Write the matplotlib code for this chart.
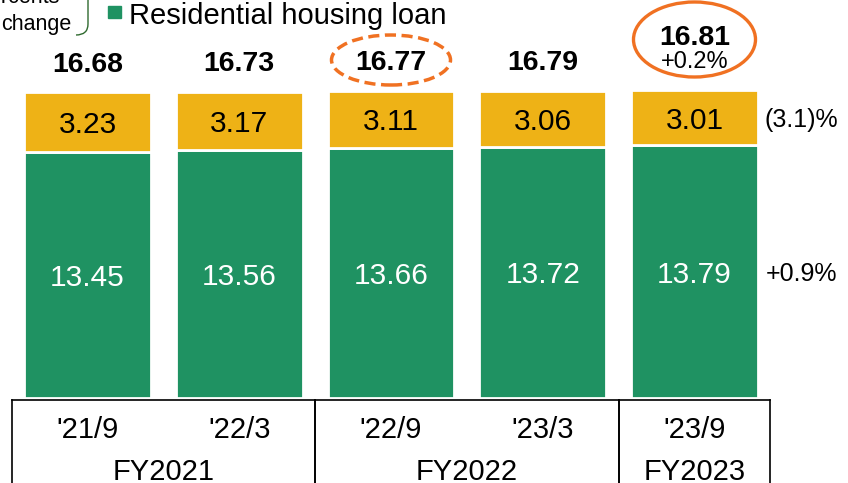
import matplotlib
matplotlib.use("Agg")
import matplotlib.pyplot as plt
from matplotlib.patches import Ellipse, Rectangle, PathPatch
from matplotlib.path import Path
from matplotlib.transforms import IdentityTransform

plt.rcParams['font.family'] = ['Liberation Sans', 'DejaVu Sans']

# Loan balances (trillion yen) at each half-year end
PERIODS = ["'21/9", "'22/3", "'22/9", "'23/3", "'23/9"]
HOUSING = [13.45, 13.56, 13.66, 13.72, 13.79]
OTHER = [3.23, 3.17, 3.11, 3.06, 3.01]
TOTALS = [16.68, 16.73, 16.77, 16.79, 16.81]
FISCAL_YEARS = ["FY2021", "FY2022", "FY2023"]
FY_SPANS = [(0, 1), (2, 3), (4, 4)]
CHANGE_TOTAL = "+0.2%"
CHANGE_OTHER = "(3.1)%"
CHANGE_HOUSING = "+0.9%"

GREEN = '#1F9262'
YELLOW = '#EEB216'
ORANGE = '#F07122'

W, H = 848, 483
PX_PER_BAR = 151.75   # spacing between bars
PX_PER_UNIT = 18.3    # pixels per trillion yen
X0_PX = 87.5          # centre of first bar
Y0_PX = 397.7         # baseline, from top
BAR_W = 0.835

fig = plt.figure(figsize=(W / 100, H / 100), dpi=100)
ax = fig.add_axes([0, 0, 1, 1])
ax.set_xlim(-X0_PX / PX_PER_BAR, (W - X0_PX) / PX_PER_BAR)
ax.set_ylim(-(H - Y0_PX) / PX_PER_UNIT, Y0_PX / PX_PER_UNIT)
ax.axis('off')


def row(py):
    """pixel row (from top) -> data y"""
    return (Y0_PX - py) / PX_PER_UNIT


x = list(range(len(PERIODS)))
ax.bar(x, HOUSING, width=BAR_W, color=GREEN, edgecolor='white', linewidth=2)
ax.bar(x, OTHER, bottom=HOUSING, width=BAR_W, color=YELLOW,
       edgecolor='white', linewidth=2)

for i in x:
    ax.text(i, HOUSING[i] / 2, f"{HOUSING[i]:.2f}", color='white',
            fontsize=21.5, ha='center', va='center_baseline')
    ax.text(i, HOUSING[i] + OTHER[i] / 2, f"{OTHER[i]:.2f}", color='black',
            fontsize=21.5, ha='center', va='center_baseline')

# totals above the bars
for i in x[:-1]:
    ax.annotate(f"{TOTALS[i]:.2f}", (i, TOTALS[i]), xytext=(0, 22),
                textcoords='offset points', ha='center',
                va='center_baseline', fontsize=20.5, fontweight='bold')
last = x[-1]
ax.annotate(f"{TOTALS[last]:.2f}", (last, TOTALS[last]), xytext=(0, 40),
            textcoords='offset points', ha='center', va='center_baseline',
            fontsize=20.5, fontweight='bold')
ax.annotate(CHANGE_TOTAL, (last, TOTALS[last]), xytext=(0, 22),
            textcoords='offset points', ha='center', va='center_baseline',
            fontsize=17)

# highlight rings
ax.add_patch(Ellipse((2, row(60)), 119 / PX_PER_BAR, 50 / PX_PER_UNIT,
                     fill=False, ec=ORANGE, lw=2.5, ls=(0, (3.2, 1.6))))
ax.add_patch(Ellipse((last, row(39.5)), 122 / PX_PER_BAR, 75 / PX_PER_UNIT,
                     fill=False, ec=ORANGE, lw=2.4))

# change rates on the right
ax.annotate(CHANGE_OTHER, (last + BAR_W / 2, HOUSING[last] + OTHER[last] / 2),
            xytext=(5, 0), textcoords='offset points', ha='left',
            va='center_baseline', fontsize=18)
ax.annotate(CHANGE_HOUSING, (last + BAR_W / 2, HOUSING[last] / 2),
            xytext=(6, 0), textcoords='offset points', ha='left',
            va='center_baseline', fontsize=18)

# period / fiscal year table under the bars
top = row(400)
bottom = row(H + 5)
ax.plot([-0.5, last + 0.5], [top, top], color='black', lw=1.2, clip_on=False)
for a, b in FY_SPANS:
    for xv in (a - 0.5, b + 0.5):
        ax.plot([xv, xv], [top, bottom], color='black', lw=1.2, clip_on=False)
for i in x:
    ax.text(i, row(427), PERIODS[i], fontsize=21, ha='center',
            va='center_baseline')
for (a, b), fy in zip(FY_SPANS, FISCAL_YEARS):
    ax.text((a + b) / 2, row(469), fy, fontsize=21, ha='center',
            va='center_baseline')

# legend
fig.add_artist(Rectangle((108, H - 18), 13, 12, color=GREEN,
                         transform=IdentityTransform()))
fig.text(129 / W, 1 - 12.5 / H, "Residential housing loan", fontsize=21,
         ha='left', va='center_baseline')

# note bracket in the corner
bracket = Path([(88, H + 2), (88, H - 24), (88, H - 35), (76, H - 35)],
               [Path.MOVETO, Path.LINETO, Path.CURVE3, Path.CURVE3])
fig.add_artist(PathPatch(bracket, fc='none', ec='#2F6A2F', lw=1,
                         transform=IdentityTransform()))
fig.text(60 / W, 1 - 3 / H, "percents", fontsize=15.5, ha='right',
         va='baseline')
fig.text(36 / W, 1 - 22 / H, "change", fontsize=15.5, ha='center',
         va='center_baseline')

fig.savefig("out.png", dpi=100)
